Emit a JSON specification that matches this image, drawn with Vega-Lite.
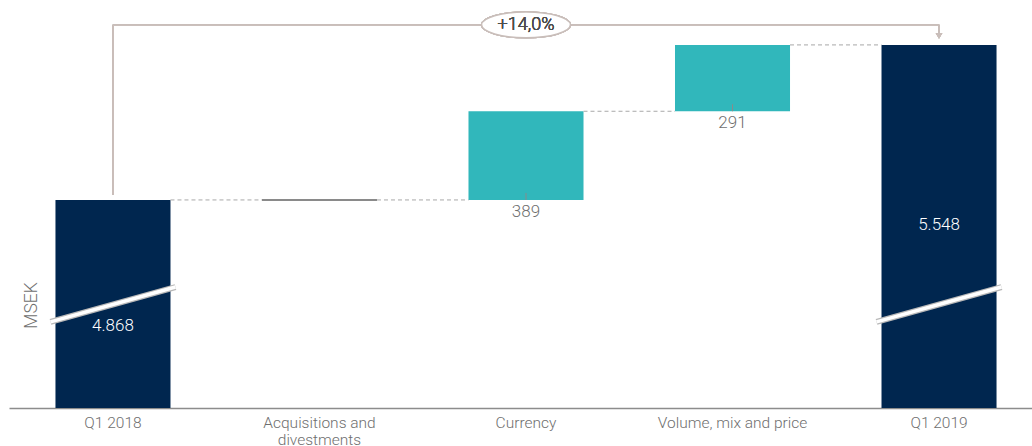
{
  "$schema": "https://vega.github.io/schema/vega-lite/v6.json",
  "width": 1034,
  "height": 408,
  "autosize": {"type": "none"},
  "padding": {"left": 9, "top": 0, "right": 0, "bottom": 38},
  "background": "white",
  "config": {"view": {"stroke": null}, "font": "Roboto"},
  "datasets": {
    "bars": [
      {"cat": "Q1 2018", "start": 0, "end": 4868, "kind": "total", "label": "4.868"},
      {"cat": "Acquisitions and divestments", "start": 4868, "end": 4868, "kind": "none", "label": ""},
      {"cat": "Currency", "start": 4868, "end": 5257, "kind": "change", "label": "389"},
      {"cat": "Volume, mix and price", "start": 5257, "end": 5548, "kind": "change", "label": "291"},
      {"cat": "Q1 2019", "start": 0, "end": 5548, "kind": "total", "label": "5.548"}
    ],
    "breaks": [
      {"cat": "Q1 2018", "lo": 4333, "hi": 4486},
      {"cat": "Q1 2019", "lo": 4333, "hi": 4486}
    ]
  },
  "data": {"name": "bars"},
  "encoding": {
    "x": {
      "field": "cat",
      "type": "nominal",
      "sort": null,
      "scale": {"paddingInner": 0.443, "paddingOuter": 0.225},
      "axis": {
        "title": null,
        "domainColor": "#8c8c8c",
        "domainWidth": 1.5,
        "ticks": false,
        "labelColor": "#6f6f6f",
        "labelFontSize": 15.5,
        "labelFont": "Roboto",
        "labelFontWeight": 300,
        "labelPadding": 7,
        "labelAngle": 0,
        "labelLineHeight": 17,
        "labelExpr": "datum.label == 'Acquisitions and divestments' ? ['Acquisitions and', 'divestments'] : datum.label"
      }
    }
  },
  "layer": [
    {
      "mark": {"type": "bar", "clip": true},
      "encoding": {
        "y": {
          "field": "start",
          "type": "quantitative",
          "scale": {"domain": [3955.5, 5745], "zero": false, "nice": false},
          "axis": {
            "title": "MSEK",
            "labels": false,
            "ticks": false,
            "domain": false,
            "grid": false,
            "titleX": 22,
            "titleY": 305,
            "titleAngle": 270,
            "titleColor": "#6f6f6f",
            "titleFontSize": 17.5,
            "titleFont": "Roboto",
            "titleFontWeight": 300,
            "titleAlign": "center",
            "titleBaseline": "middle"
          }
        },
        "y2": {"field": "end"},
        "color": {
          "field": "kind",
          "type": "nominal",
          "scale": {"domain": ["total", "change", "none"], "range": ["#00264f", "#31b7bb", "#ffffff"]},
          "legend": null
        }
      }
    },
    {
      "transform": [
        {"window": [{"op": "lead", "field": "cat", "as": "next"}]},
        {"filter": "datum.next != null"}
      ],
      "mark": {"type": "rule", "xOffset": 57.5, "x2Offset": -57.5, "strokeDash": [4, 3], "color": "#a8a8a8", "strokeWidth": 1},
      "encoding": {
        "x2": {"field": "next"},
        "y": {"field": "end", "type": "quantitative"}
      }
    },
    {
      "transform": [{"filter": "datum.kind == 'none'"}],
      "mark": {"type": "rule", "xOffset": -57.5, "x2Offset": 57.5, "color": "#8a8a8a", "strokeWidth": 2},
      "encoding": {
        "x2": {"field": "cat"},
        "y": {"field": "end", "type": "quantitative"}
      }
    },
    {
      "data": {"name": "breaks"},
      "mark": {"type": "rule", "xOffset": -62.5, "x2Offset": 62.5, "color": "#b8b8b8", "strokeWidth": 6},
      "encoding": {
        "x2": {"field": "cat"},
        "y": {"field": "lo", "type": "quantitative"},
        "y2": {"field": "hi"}
      }
    },
    {
      "data": {"name": "breaks"},
      "mark": {"type": "rule", "xOffset": -62.5, "x2Offset": 62.5, "color": "#ffffff", "strokeWidth": 3.5},
      "encoding": {
        "x2": {"field": "cat"},
        "y": {"field": "lo", "type": "quantitative"},
        "y2": {"field": "hi"}
      }
    },
    {
      "transform": [{"filter": "datum.cat == 'Q1 2018'"}],
      "mark": {"type": "text", "dy": 126, "color": "#ffffff", "fontSize": 17, "fontWeight": 300, "baseline": "middle"},
      "encoding": {
        "y": {"field": "end", "type": "quantitative"},
        "text": {"field": "label"}
      }
    },
    {
      "transform": [{"filter": "datum.cat == 'Q1 2019'"}],
      "mark": {"type": "text", "dy": 180, "color": "#ffffff", "fontSize": 17, "fontWeight": 300, "baseline": "middle"},
      "encoding": {
        "y": {"field": "end", "type": "quantitative"},
        "text": {"field": "label"}
      }
    },
    {
      "transform": [{"filter": "datum.kind == 'change'"}],
      "mark": {"type": "text", "dy": 12, "color": "#6f6f6f", "fontSize": 17, "fontWeight": 300, "baseline": "middle"},
      "encoding": {
        "y": {"field": "start", "type": "quantitative"},
        "text": {"field": "label"}
      }
    },
    {
      "transform": [{"filter": "datum.kind == 'change'"}],
      "mark": {"type": "rule", "y2Offset": -7, "color": "#8a8a8a", "strokeWidth": 1},
      "encoding": {
        "y": {"field": "start", "type": "quantitative"},
        "y2": {"field": "start"}
      }
    },
    {
      "mark": {"type": "rule", "color": "#c9beba", "strokeWidth": 1.5},
      "encoding": {
        "x": {"datum": "Q1 2018"},
        "y": {"datum": 4890},
        "y2": {"datum": 5636}
      }
    },
    {
      "mark": {"type": "rule", "color": "#c9beba", "strokeWidth": 1.5},
      "encoding": {
        "x": {"datum": "Q1 2018"},
        "x2": {"datum": "Q1 2019"},
        "y": {"datum": 5636}
      }
    },
    {
      "mark": {"type": "rule", "color": "#c9beba", "strokeWidth": 1.5},
      "encoding": {
        "x": {"datum": "Q1 2019"},
        "y": {"datum": 5636},
        "y2": {"datum": 5592}
      }
    },
    {
      "mark": {"type": "point", "shape": "triangle-down", "filled": true, "color": "#c9beba", "size": 45, "opacity": 1},
      "encoding": {
        "x": {"datum": "Q1 2019"},
        "y": {"datum": 5588}
      }
    },
    {
      "mark": {"type": "point", "shape": "M -1 0 A 1 0.29 0 1 1 1 0 A 1 0.29 0 1 1 -1 0 Z", "filled": false, "fill": "#ffffff", "fillOpacity": 1, "stroke": "#c9beba", "strokeWidth": 1.5, "size": 7900, "opacity": 1},
      "encoding": {
        "x": {"datum": "Currency"},
        "y": {"datum": 5636}
      }
    },
    {
      "mark": {"type": "text", "color": "#4d4d4d", "fontSize": 18, "fontWeight": 300, "baseline": "middle"},
      "encoding": {
        "x": {"datum": "Currency"},
        "y": {"datum": 5636},
        "text": {"value": "+14,0%"}
      }
    }
  ]
}
